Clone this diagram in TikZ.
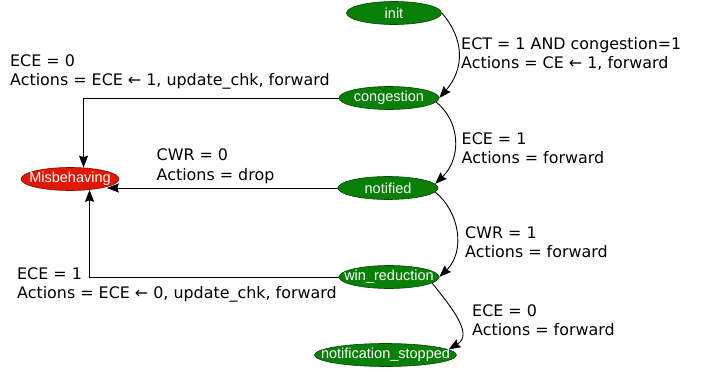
\documentclass[tikz,border=0pt]{standalone}
\usepackage{fontspec}
\setmainfont{DejaVu Sans}
\newfontfamily\statefont{Liberation Sans}
\usetikzlibrary{shapes.geometric,arrows.meta}
\definecolor{stategreen}{RGB}{8,128,8}
\definecolor{statered}{RGB}{226,24,6}

\begin{document}
\begin{tikzpicture}[x=1pt, y=1pt,
    state/.style={ellipse, fill=stategreen, draw=stategreen!55!black, line width=0.6pt,
        text=white, font=\statefont\fontsize{14.5}{14.5}\selectfont,
        inner xsep=-20pt, inner ysep=0pt, minimum width=100pt, minimum height=23pt},
    badstate/.style={state, fill=statered, draw=statered!55!black},
    trans/.style={line width=0.9pt, -{Stealth[length=12pt, width=9pt, inset=1.5pt]}},
    cond/.style={anchor=north west, inner sep=0pt, align=left,
        font=\fontsize{15.9}{19.6}\selectfont}]
    \useasboundingbox (0,0) rectangle (712,-369);

    % states
    \node[state, minimum width=95pt] (init) at (394,-13) {init};
    \node[state] (cong) at (389,-98) {congestion};
    \node[state] (notif) at (388,-188) {notified};
    \node[state] (winred) at (389,-277) {win\_reduction};
    \node[state, minimum width=142pt] (stopped) at (385.5,-355) {notification\_stopped};
    \node[badstate, minimum width=98pt, minimum height=23pt] (misb) at (70,-179) {Misbehaving};

    % transitions
    \draw[trans] (init.east) .. controls +(22,-25) and +(26,30) .. (cong.east);
    \draw[trans] (cong.-5) .. controls +(25,-20) and +(26,25) .. (notif.5);
    \draw[trans] (notif.-5) .. controls +(25,-20) and +(26,25) .. (winred.east);
    \draw[trans] (winred.-8) .. controls +(20,-25) and +(25,15) .. (stopped.5);
    \draw[trans] (cong.west) -| (misb.40);
    \draw[trans] (notif.west) -- (notif.west -| misb.-12);
    \draw[trans] (winred.west) -| (misb.-29);

    % conditions and actions
    \node[cond] (lblinit) at (461,-37) {ECT = 1 AND congestion=1\\Actions = CE ← 1, forward};
    \node[cond] (lblcong) at (10,-54) {ECE = 0\\Actions = ECE ← 1, update\_chk, forward};
    \node[cond] (lblcongnot) at (461.5,-132) {ECE = 1\\Actions = forward};
    \node[cond] (lblnot) at (156.5,-148.7) {CWR = 0\\Actions = drop};
    \node[cond] (lblnotwin) at (465,-226.3) {CWR = 1\\Actions = forward};
    \node[cond] (lblwin) at (17,-267) {ECE = 1\\Actions = ECE ← 0, update\_chk, forward};
    \node[cond] (lblstop) at (472,-304) {ECE = 0\\Actions = forward};
\end{tikzpicture}
\end{document}
